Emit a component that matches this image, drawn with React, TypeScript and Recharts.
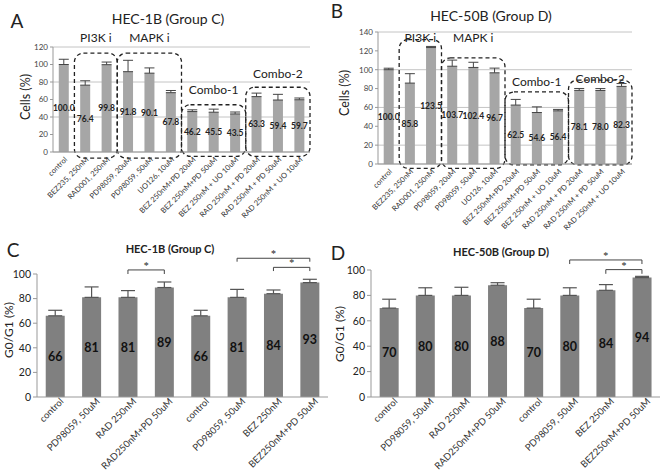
import React from "react";
import {
  BarChart,
  Bar,
  XAxis,
  YAxis,
  CartesianGrid,
  ErrorBar,
  LabelList,
  ReferenceArea,
  ReferenceLine,
} from "recharts";

const FONT = "Lato, 'Open Sans', sans-serif";

// A/B: cell number, % of control
const treatLabels = [
  "control",
  "BEZ235, 250nM",
  "RAD001, 250nM",
  "PD98059, 20uM",
  "PD98059, 50uM",
  "UO126, 10uM",
  "BEZ 250nM+PD 20uM",
  "BEZ 250nM+PD 50uM",
  "BEZ 250nM + UO 10uM",
  "RAD 250nM + PD 20uM",
  "RAD 250nM + PD 50uM",
  "RAD 250nM + UO 10uM",
];
const cellsHec1b = [100.0, 76.4, 99.8, 91.8, 90.1, 67.8, 46.2, 45.5, 43.5, 63.3, 59.4, 59.7];
const cellsErrHec1b = [6, 5, 3, 13, 6, 2.5, 2, 3.5, 2.2, 4, 6.5, 2];
const cellsHec50b = [100.0, 85.8, 123.5, 103.7, 102.4, 96.7, 62.5, 54.6, 56.4, 78.1, 78.0, 82.3];
const cellsErrHec50b = [1.6, 10, 1.2, 6.5, 5.5, 5, 6, 6, 1.5, 2, 2, 3];

// inhibitor groups boxed in A/B (first..last category)
const groups = [
  { name: "PI3K i", from: 1, to: 2 },
  { name: "MAPK i", from: 3, to: 5 },
  { name: "Combo-1", from: 6, to: 8 },
  { name: "Combo-2", from: 9, to: 11 },
];

// C/D: G0/G1 fraction
const cycleLabels = [
  "control",
  "PD98059, 50uM",
  "RAD 250nM",
  "RAD250nM+PD 50uM",
  "control",
  "PD98059, 50uM",
  "BEZ 250nM",
  "BEZ250nM+PD 50uM",
];
const g1Hec1b = [66, 81, 81, 89, 66, 81, 84, 93];
const g1ErrHec1b = [4.5, 8.5, 5.5, 4.5, 4.5, 6.5, 3, 2.7];
const g1Hec50b = [70, 80, 80, 88, 70, 80, 84, 94];
const g1ErrHec50b = [7, 6, 6.4, 2, 7, 6, 4.5, 1];
const sigHec1b = [[2, 3], [5, 7], [6, 7]];
const sigHec50b = [[5, 7], [6, 7]];

const toRows = (vals: number[], errs: number[]) =>
  vals.map((v, i) => ({ idx: i, value: v, err: [0, errs[i]] }));

const SlantTick = (props: any) => {
  const { x, y, payload, labels, size, dx, dy } = props;
  const tx = x + dx;
  const ty = y + dy;
  return (
    <text
      x={tx}
      y={ty}
      transform={`rotate(-45, ${tx}, ${ty})`}
      textAnchor="end"
      fontSize={size}
      fill="#333"
      fontFamily={FONT}
    >
      {labels[payload.value]}
    </text>
  );
};

const DashedBox = (p: any) => (
  <rect
    x={p.x}
    y={p.y}
    width={p.width}
    height={p.height}
    rx={9}
    ry={9}
    fill="none"
    stroke="#222"
    strokeWidth={1.3}
    strokeDasharray="4 3"
  />
);

function Caption({ x, y, size, bold, rotate, children }: any) {
  return (
    <div
      style={{
        position: "absolute",
        left: x,
        top: y,
        transform: `translate(-50%, -50%)${rotate ? " rotate(-90deg)" : ""}`,
        fontSize: size,
        fontWeight: bold ? 700 : 400,
        whiteSpace: "nowrap",
        color: "#222",
        fontFamily: FONT,
      }}
    >
      {children}
    </div>
  );
}

function GrowthPanel({ vals, errs, max, margin, yWidth, boxTop, boxBottom, labelOffset }: any) {
  const data = toRows(vals, errs);
  const ticks = [];
  for (let t = 0; t <= max; t += 20) ticks.push(t);
  return (
    <BarChart width={331} height={237} data={data} margin={margin} barCategoryGap="27%">
      <CartesianGrid vertical={false} stroke="#c4c4c4" />
      <XAxis
        dataKey="idx"
        type="category"
        interval={0}
        tickLine={false}
        stroke="#999"
        height={80}
        tick={(p: any) => <SlantTick {...p} labels={treatLabels} size={7.5} dx={4} dy={0} />}
      />
      <YAxis
        domain={[0, max]}
        ticks={ticks}
        width={yWidth}
        stroke="#999"
        tickSize={3}
        tick={{ fontSize: 8, fill: "#444", fontFamily: FONT }}
      />
      <Bar dataKey="value" fill="#a6a6a6" isAnimationActive={false}>
        <ErrorBar dataKey="err" width={5} stroke="#444" strokeWidth={1} direction="y" />
        <LabelList
          dataKey="value"
          position="center"
          formatter={(v: any) => Number(v).toFixed(1)}
          style={{ fontSize: 8.5, fontWeight: 700, fill: "#222", fontFamily: FONT }}
        />
      </Bar>
      {groups.map((g, i) => (
        <ReferenceArea
          key={g.name}
          x1={g.from}
          x2={g.to}
          y1={boxBottom[i]}
          y2={boxTop[i]}
          ifOverflow="visible"
          shape={DashedBox}
          label={{
            value: g.name,
            position: "top",
            offset: labelOffset[i],
            fontSize: 12,
            fill: "#222",
            fontFamily: FONT,
          }}
        />
      ))}
    </BarChart>
  );
}

function CyclePanel({ vals, errs, sig, levels, margin, yWidth }: any) {
  const data = toRows(vals, errs);
  const ticks = [];
  for (let t = 0; t <= 100; t += 10) ticks.push(t);
  return (
    <BarChart width={331} height={237} data={data} margin={margin} barCategoryGap="24%">
      <XAxis
        dataKey="idx"
        type="category"
        interval={0}
        tickLine={false}
        stroke="#999"
        height={77}
        tick={(p: any) => <SlantTick {...p} labels={cycleLabels} size={9.5} dx={9} dy={-3} />}
      />
      <YAxis
        domain={[0, 100]}
        ticks={ticks}
        width={yWidth}
        stroke="#999"
        tickSize={4}
        tick={{ fontSize: 10.5, fill: "#222", fontFamily: FONT }}
      />
      <Bar dataKey="value" fill="#808080" isAnimationActive={false}>
        <ErrorBar dataKey="err" width={7} stroke="#555" strokeWidth={1.2} direction="y" />
        <LabelList
          dataKey="value"
          position="center"
          style={{ fontSize: 12.5, fontWeight: 700, fill: "#111", fontFamily: FONT }}
        />
      </Bar>
      {sig.map(([a, b]: number[], i: number) => {
        const [top, foot] = levels[i];
        return (
          <React.Fragment key={i}>
            <ReferenceLine
              segment={[{ x: a, y: top }, { x: b, y: top }]}
              ifOverflow="visible"
              stroke="#444"
              label={{ value: "*", position: "top", offset: 1, fontSize: 10, fill: "#222", stroke: "none" }}
            />
            <ReferenceLine segment={[{ x: a, y: top }, { x: a, y: foot }]} ifOverflow="visible" stroke="#444" />
            <ReferenceLine segment={[{ x: b, y: top }, { x: b, y: foot }]} ifOverflow="visible" stroke="#444" />
          </React.Fragment>
        );
      })}
    </BarChart>
  );
}

export default function App() {
  return (
    <div style={{ position: "absolute", left: 0, top: 0, width: 662, height: 474, background: "#fff", overflow: "hidden" }}>
      <div style={{ position: "absolute", left: 0, top: 0 }}>
        <GrowthPanel
          vals={cellsHec1b}
          errs={cellsErrHec1b}
          max={120}
          yWidth={53}
          margin={{ top: 47, right: 21, left: 0, bottom: 5 }}
          boxTop={[113, 113, 54, 74]}
          boxBottom={[-7, -7, -5, -5]}
          labelOffset={[11, 11, 11, 9]}
        />
      </div>
      <div style={{ position: "absolute", left: 331, top: 0 }}>
        <GrowthPanel
          vals={cellsHec50b}
          errs={cellsErrHec50b}
          max={140}
          yWidth={47}
          margin={{ top: 32, right: 30, left: 0, bottom: -7 }}
          boxTop={[132, 112.6, 76.4, 89]}
          boxBottom={[-4.6, -4.6, -1, -1]}
          labelOffset={[-2, 16, 6, -3]}
        />
      </div>
      <div style={{ position: "absolute", left: 0, top: 237 }}>
        <CyclePanel
          vals={g1Hec1b}
          errs={g1ErrHec1b}
          sig={sigHec1b}
          levels={[[103.3, 100], [112.8, 110], [105.4, 102.4]]}
          yWidth={37}
          margin={{ top: 37, right: 3, left: 0, bottom: 0 }}
        />
      </div>
      <div style={{ position: "absolute", left: 331, top: 237 }}>
        <CyclePanel
          vals={g1Hec50b}
          errs={g1ErrHec50b}
          sig={sigHec50b}
          levels={[[107.9, 104.7], [100.3, 97]]}
          yWidth={40}
          margin={{ top: 33, right: 2, left: 0, bottom: 0 }}
        />
      </div>

      <Caption x={17} y={20} size={19}>A</Caption>
      <Caption x={168} y={18} size={14}>HEC-1B (Group C)</Caption>
      <Caption x={25} y={97} size={12.5} rotate>Cells (%)</Caption>

      <Caption x={337} y={10} size={19}>B</Caption>
      <Caption x={491} y={15} size={14}>HEC-50B (Group D)</Caption>
      <Caption x={344} y={93} size={12.5} rotate>Cells (%)</Caption>

      <Caption x={13} y={249} size={19}>C</Caption>
      <Caption x={170} y={248} size={11} bold>HEC-1B (Group C)</Caption>
      <Caption x={8} y={330} size={12} rotate>G0/G1 (%)</Caption>

      <Caption x={338} y={252} size={19}>D</Caption>
      <Caption x={501} y={251} size={11} bold>HEC-50B (Group D)</Caption>
      <Caption x={339} y={334} size={12} rotate>G0/G1 (%)</Caption>
    </div>
  );
}
